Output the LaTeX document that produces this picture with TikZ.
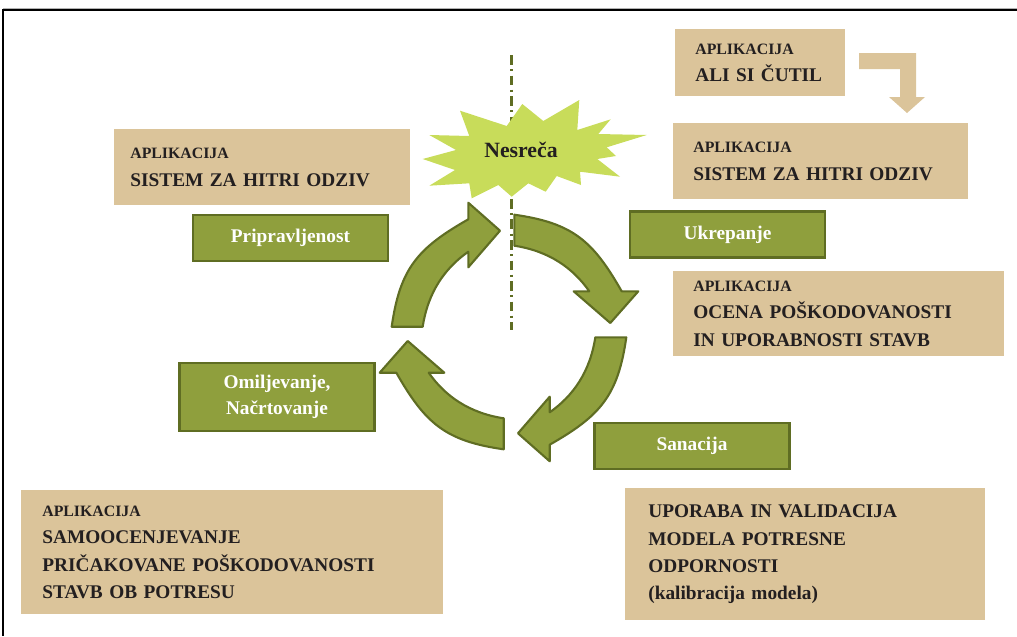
\documentclass[tikz,border=0pt]{standalone}
\usepackage{fontspec}
\setmainfont{Liberation Serif}
\usetikzlibrary{positioning,calc}
\definecolor{tanbox}{RGB}{219,196,154}
\definecolor{olivefill}{RGB}{143,159,61}
\definecolor{olivedark}{RGB}{95,109,35}
\definecolor{burst}{RGB}{200,220,90}
\definecolor{ink}{RGB}{35,31,32}
\newcommand\aplhead{{\fontsize{9}{9}\selectfont APLIKACIJA}\\}

\begin{document}
\begin{tikzpicture}[x=0.02cm,y=-0.02cm,
   app/.style={fill=tanbox,anchor=north west,align=left,inner ysep=0pt,text=ink,font=\fontsize{11}{15.5}\selectfont\bfseries},
   phase/.style={draw=olivedark,line width=1.4pt,fill=olivefill,text=white,align=center,minimum width=3.9cm,minimum height=0.92cm,font=\fontsize{11}{14.5}\selectfont\bfseries},
   turn/.style={fill=olivefill,draw=olivedark,line width=1.2pt,line join=round}]
  \useasboundingbox (0,0) rectangle (1017,636);
  \draw[gray!60] (3,8) -- (1017,8);
  \draw[line width=0.7pt] (1017,10) -- (3,10) -- (3,636);

  \node[app,text width=5.28cm,inner xsep=0.32cm,minimum height=1.52cm] (odzivL) at (114,129) {\aplhead SISTEM ZA HITRI ODZIV};
  \node[app,text width=2.6cm,inner xsep=0.4cm,minimum height=1.34cm] (cutil) at (675,29) {\aplhead ALI SI ČUTIL};
  \node[app,text width=5.1cm,inner xsep=0.4cm,minimum height=1.52cm] (odzivR) at (673,123) {\aplhead SISTEM ZA HITRI ODZIV};
  \node[app,text width=5.82cm,inner xsep=0.4cm,minimum height=1.7cm] (ocena) at (673,271) {\aplhead OCENA POŠKODOVANOSTI\\ IN UPORABNOSTI STAVB};
  \node[app,text width=7.6cm,inner xsep=0.42cm,minimum height=2.48cm] (samo) at (21,490) {\aplhead SAMOOCENJEVANJE\\ PRIČAKOVANE POŠKODOVANOSTI\\ STAVB OB POTRESU};
  \node[app,text width=6.28cm,inner xsep=0.46cm,minimum height=2.64cm] (validacija) at (625,488) {UPORABA IN VALIDACIJA\\ MODELA POTRESNE\\ ODPORNOSTI\\ (kalibracija modela)};
  \fill[tanbox] (859,53) -- (916,53) -- (916,97) -- (925,97) -- (907,113) -- (889,97) -- (900,97) -- (900,69) -- (859,69) -- cycle;

  \draw[olivedark,line width=1.7pt,dash pattern=on 5.5pt off 2.5pt on 1.2pt off 2.5pt] (511,55) -- (511,330);
  \fill[burst] (429.3,135) -- (469.3,136) -- (460,110.7) -- (506.7,126) -- (522.3,104) -- (543.3,121) -- (579.3,100) -- (577.3,130) -- (610.7,119.3) -- (598.3,134) -- (646.7,135) -- (606.7,147.3) -- (616,156) -- (597.3,159) -- (620,176.7) -- (580,171.7) -- (581,185) -- (556.7,176) -- (545.7,191.7) -- (528.3,183.3) -- (511.7,196.7) -- (498.3,185) -- (471.7,198.3) -- (469.3,183.3) -- (429.3,185.7) -- (455,170) -- (422.7,159) -- (456,150) -- cycle;
  \node[text=ink,font=\fontsize{12.4}{14}\selectfont\bfseries] (nesreca) at (521,150) {Nesreča};

  \foreach \a in {0,-90,-180,-270}
    \draw[turn,shift={(509,332)},rotate=\a] (-117.3,-5.3) .. controls (-109,-64) and (-91,-84) .. (-40.7,-112.7) -- (-40.7,-129.3) -- (-9,-101.3) -- (-40.7,-64.7) -- (-40.7,-80.3) .. controls (-64,-64) and (-81,-40) .. (-86.3,-5.3) -- cycle;

  \node[phase] (prip) at (290.5,238) {Pripravljenost};
  \node[phase] (ukrep) at (727.5,234.5) {Ukrepanje};
  \node[phase,minimum height=1.36cm] (omil) at (277,397) {Omiljevanje,\\ Načrtovanje};
  \node[phase] (sanac) at (692,446) {Sanacija};
\end{tikzpicture}
\end{document}
